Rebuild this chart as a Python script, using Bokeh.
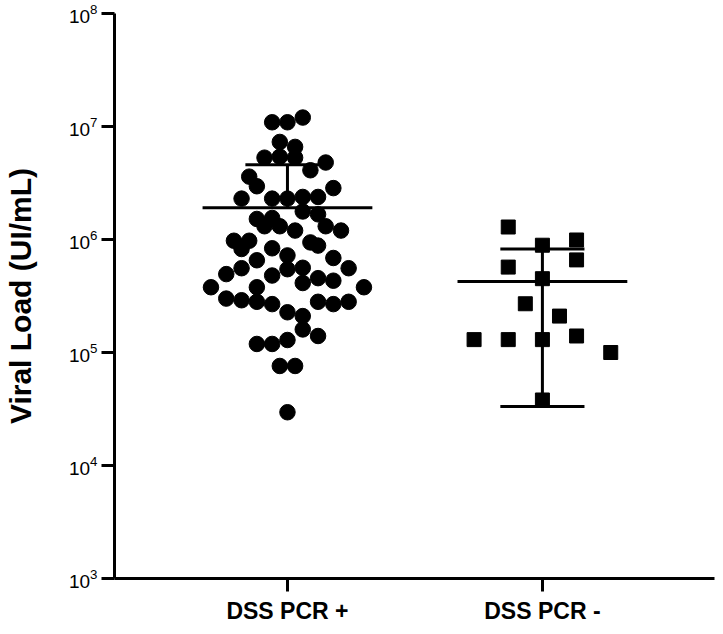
from bokeh.plotting import figure
from bokeh.models import Range1d, FixedTicker, LogTickFormatter
from bokeh.embed import file_html
from bokeh.resources import INLINE

# ---- data ----
categories = ["DSS PCR +", "DSS PCR -"]
cat_pos = [1, 2]

# DSS PCR + (circles): swarm offset index, viral load
plus_offset = [-2, 0, 2, -1, 1, -3, -1, 1, 5, 3, -5, -4, 6, -6, -2, 0, 2, 4, 2, 4,
               -4, -2, -3, -1, 5, 1, 7, -7, -5, -6, 3, 4, -2, 0, 6, -4, -6, 2, 8, -8,
               -2, 0, 2, 4, 6, -10, -4, 10, -8, -6, -4, -2, 4, 6, 8, 0, 2, 2, 4, -4,
               -2, 0, -1, 1, 0]
plus_load = [1.09e7, 1.09e7, 1.20e7, 7.3e6, 6.6e6, 5.3e6, 5.4e6, 5.3e6, 4.8e6, 4.1e6,
             3.6e6, 2.96e6, 2.85e6, 2.3e6, 2.3e6, 2.3e6, 2.38e6, 2.38e6, 1.77e6, 1.67e6,
             1.52e6, 1.55e6, 1.31e6, 1.31e6, 1.31e6, 1.2e6, 1.2e6, 9.75e5, 9.75e5, 8.24e5,
             9.42e5, 8.83e5, 8.36e5, 7.23e5, 6.86e5, 6.55e5, 5.57e5, 5.62e5, 5.57e5, 4.94e5,
             4.8e5, 5.46e5, 4.12e5, 4.55e5, 4.32e5, 3.78e5, 3.78e5, 3.78e5, 3.0e5, 2.9e5,
             2.81e5, 2.68e5, 2.81e5, 2.68e5, 2.81e5, 2.27e5, 2.1e5, 1.6e5, 1.4e5, 1.19e5,
             1.19e5, 1.29e5, 7.6e4, 7.6e4, 2.96e4]

# DSS PCR - (squares)
minus_offset = [-2, 0, 2, 2, -2, 0, -1, 1, -4, -2, 0, 2, 4, 0]
minus_load = [1.29e6, 8.9e5, 9.9e5, 6.6e5, 5.7e5, 4.5e5, 2.7e5, 2.1e5, 1.3e5, 1.3e5,
              1.3e5, 1.4e5, 1.0e5, 3.8e4]

# summary lines (centre, upper, lower; None = not shown on log scale)
summary_mid = [1.91e6, 4.26e5]
summary_upper = [4.58e6, 8.24e5]
summary_lower = [None, 3.33e4]

y_ticks = [1e3, 1e4, 1e5, 1e6, 1e7, 1e8]

# ---- figure ----
p = figure(width=715, height=626, y_axis_type="log",
           x_range=Range1d(0.3216, 2.675), y_range=Range1d(1e3, 1e8),
           output_backend="svg", toolbar_location=None,
           min_border_left=114, min_border_right=1,
           min_border_top=13, min_border_bottom=44)
p.outline_line_color = None
p.grid.visible = False
p.background_fill_color = "white"
p.border_fill_color = "white"

step1 = 0.030
step2 = 0.067
px = [cat_pos[0] + k * step1 for k in plus_offset]
mx = [cat_pos[1] + k * step2 for k in minus_offset]

p.scatter(px, plus_load, marker="circle", size=15.5, color="black")
p.scatter(mx, minus_load, marker="square", size=14, color="black")

half_mean = 0.333
half_cap = 0.165
for c, mid, up, lo in zip(cat_pos, summary_mid, summary_upper, summary_lower):
    p.segment(x0=[c - half_mean], y0=[mid], x1=[c + half_mean], y1=[mid],
              line_color="black", line_width=3)
    p.segment(x0=[c], y0=[mid], x1=[c], y1=[up], line_color="black", line_width=3)
    p.segment(x0=[c - half_cap], y0=[up], x1=[c + half_cap], y1=[up],
              line_color="black", line_width=3)
    if lo is not None:
        p.segment(x0=[c], y0=[mid], x1=[c], y1=[lo], line_color="black", line_width=3)
        p.segment(x0=[c - half_cap], y0=[lo], x1=[c + half_cap], y1=[lo],
                  line_color="black", line_width=3)

font = "Liberation Sans"
# y axis
p.yaxis.ticker = FixedTicker(ticks=y_ticks)
p.yaxis.formatter = LogTickFormatter()
p.yaxis.axis_label = "Viral Load (UI/mL)"
p.yaxis.axis_label_text_font = font
p.yaxis.axis_label_text_font_style = "bold"
p.yaxis.axis_label_text_font_size = "30px"
p.yaxis.axis_label_text_color = "black"
p.yaxis.axis_label_standoff = 29
p.yaxis.major_label_text_font = font
p.yaxis.major_label_text_font_size = "19px"
p.yaxis.major_label_text_color = "black"
p.yaxis.major_label_standoff = 4

# x axis
p.xaxis.ticker = FixedTicker(ticks=cat_pos)
p.xaxis.major_label_overrides = {cat_pos[i]: categories[i] for i in range(2)}
p.xaxis.major_label_text_font = font
p.xaxis.major_label_text_font_style = "bold"
p.xaxis.major_label_text_font_size = "23px"
p.xaxis.major_label_text_color = "black"
p.xaxis.major_label_standoff = 6

for ax in (p.xaxis, p.yaxis):
    ax.axis_line_width = 3
    ax.axis_line_color = "black"
    ax.major_tick_line_width = 3
    ax.major_tick_line_color = "black"
    ax.major_tick_out = 13
    ax.major_tick_in = 0
    ax.minor_tick_line_color = None

open("out.html", "w").write(file_html(p, INLINE))
